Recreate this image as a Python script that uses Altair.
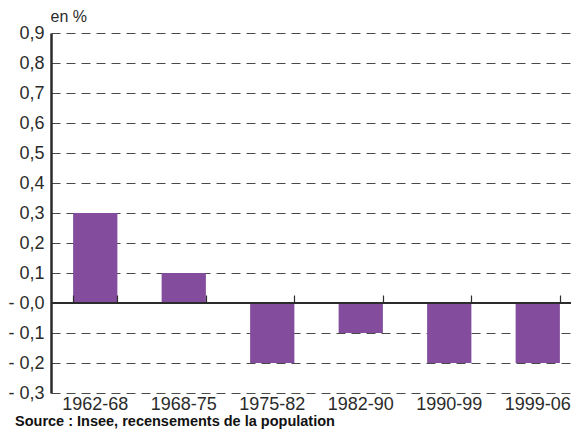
import altair as alt
import pandas as pd

periods = ["1962-68", "1968-75", "1975-82", "1982-90", "1990-99", "1999-06"]
values = [0.3, 0.1, -0.2, -0.1, -0.2, -0.2]
y_ticks = [-0.3, -0.2, -0.1, 0.0, 0.1, 0.2, 0.3, 0.4, 0.5, 0.6, 0.7, 0.8, 0.9]

df = pd.DataFrame({"periode": periods, "valeur": values})

FONT = "Liberation Sans Narrow, Arial Narrow, Liberation Sans, Arial"
DARK = "#2b2b2b"

W, H = 531, 360
Y_MIN, Y_MAX = -0.3, 0.9
zero_offset = -H * Y_MAX / (Y_MAX - Y_MIN)

x_scale = alt.Scale(paddingInner=0.5, paddingOuter=0.25)
y_scale = alt.Scale(domain=[Y_MIN, Y_MAX], nice=False, zero=False)

label_expr = ("(datum.value <= 0.0001 ? '- ' : '') + "
              "replace(format(abs(datum.value), '.1f'), '.', ',')")

y_axis = alt.Axis(values=y_ticks, labelExpr=label_expr, ticks=False,
                  domainWidth=2.5, domainColor=DARK,
                  grid=True, gridDash=[9, 6], gridColor="#4a4a4a",
                  gridWidth=1, labelFont=FONT, labelFontSize=18,
                  labelColor=DARK, labelPadding=7, labelOverlap=False,
                  title="en %", titleAngle=0, titleX=-1, titleY=-9,
                  titleAlign="left", titleBaseline="bottom",
                  titleFont=FONT, titleFontSize=16,
                  titleFontWeight="normal", titleColor=DARK)

bars = alt.Chart(df).mark_bar(color="#834c9c").encode(
    x=alt.X("periode:N", sort=periods, scale=x_scale,
            axis=alt.Axis(title=None, orient="bottom", domain=False, ticks=False,
                          labelAngle=0, labelFont=FONT, labelFontSize=18,
                          labelColor=DARK, labelPadding=2, labelOverlap=False)),
    y=alt.Y("valeur:Q", scale=y_scale, axis=y_axis),
)

zero = alt.Chart(df).mark_rule(color=DARK, strokeWidth=2).encode(
    x=alt.X("periode:N", sort=periods, scale=x_scale,
            axis=alt.Axis(orient="top", offset=zero_offset, labels=False,
                          domain=False, ticks=True, tickBand="extent",
                          tickSize=8, tickColor=DARK, tickWidth=1.2,
                          title=None, zindex=1)),
    y=alt.Y(datum=0, scale=y_scale, axis=y_axis),
    opacity=alt.value(0),
)

zero_line = alt.Chart(df).mark_rule(color=DARK, strokeWidth=2).encode(
    y=alt.Y(datum=0, scale=y_scale, axis=y_axis),
)

chart = alt.layer(bars, zero, zero_line).properties(
    width=W,
    height=H,
    autosize=alt.AutoSizeParams(type="none"),
    padding={"left": 43, "top": 25, "right": -11, "bottom": 40},
    title=alt.TitleParams(
        "Source : Insee, recensements de la population",
        orient="bottom", anchor="start", frame="group", dx=-36, offset=2,
        font=FONT, fontSize=14.5, fontWeight="bold", color="#111111",
    ),
).configure_view(stroke=None).configure_axis(labelOverlap=False)

chart.save("out.html", embed_options={"renderer": "svg", "actions": False})
